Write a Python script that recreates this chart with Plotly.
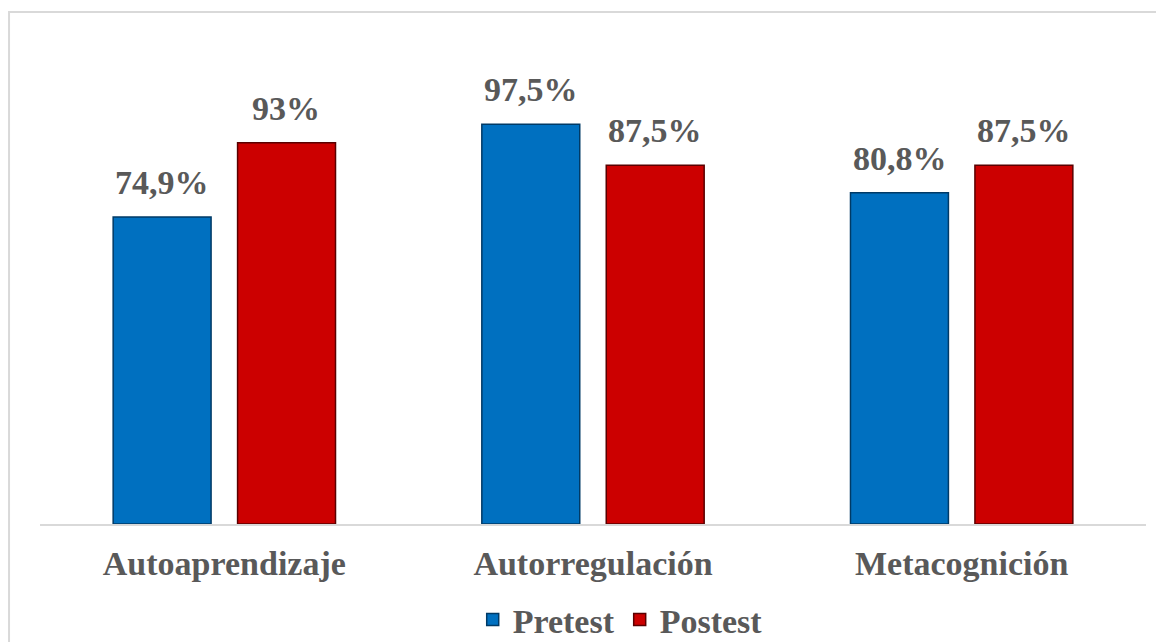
import plotly.graph_objects as go

categories = ["Autoaprendizaje", "Autorregulación", "Metacognición"]
pretest = [74.9, 97.5, 80.8]
postest = [93.0, 87.5, 87.5]
pretest_labels = ["74,9%", "97,5%", "80,8%"]
postest_labels = ["93%", "87,5%", "87,5%"]

FONT = "Liberation Serif"
GRAY = "#595959"

fig = go.Figure()
fig.add_trace(go.Bar(
    x=categories, y=pretest, name="Pretest",
    marker=dict(color="#0070c0", line=dict(color="#003a66", width=1.5)),
))
fig.add_trace(go.Bar(
    x=categories, y=postest, name="Postest",
    marker=dict(color="#cc0000", line=dict(color="#5a0000", width=1.5)),
))

for c, v, t in zip(categories, pretest, pretest_labels):
    fig.add_annotation(x=c, y=v, text="<b>%s</b>" % t, xshift=-62, yshift=14,
                       yanchor="bottom", showarrow=False,
                       font=dict(family=FONT, size=34, color=GRAY))
for c, v, t in zip(categories, postest, postest_labels):
    fig.add_annotation(x=c, y=v, text="<b>%s</b>" % t, xshift=62, yshift=14,
                       yanchor="bottom", showarrow=False,
                       font=dict(family=FONT, size=34, color=GRAY))

fig.add_shape(type="rect", xref="paper", yref="paper",
              x0=-0.028, x1=1.2, y0=-0.6, y1=1.0407,
              line=dict(color="#d9d9d9", width=2), fillcolor="rgba(0,0,0,0)",
              layer="below")

fig.update_layout(
    width=1164, height=642,
    margin=dict(l=32, r=26, t=24, b=126, autoexpand=False),
    paper_bgcolor="white", plot_bgcolor="white",
    barmode="group", bargap=0.325, bargroupgap=0.213,
    font=dict(family=FONT, color=GRAY),
    showlegend=True,
    legend=dict(orientation="h", x=0.5246, xanchor="center", y=-0.195, yanchor="middle",
                font=dict(family=FONT, size=34, color=GRAY, weight="bold"),
                itemwidth=30, traceorder="normal"),
    xaxis=dict(showline=True, linecolor="#d9d9d9", linewidth=1.5, ticks="",
               tickfont=dict(family=FONT, size=34, color=GRAY, weight="bold"),
               ticklabelstandoff=8, automargin=False),
    yaxis=dict(range=[0, 120], visible=False, showgrid=False, automargin=False),
)

fig.write_html("out.html")
